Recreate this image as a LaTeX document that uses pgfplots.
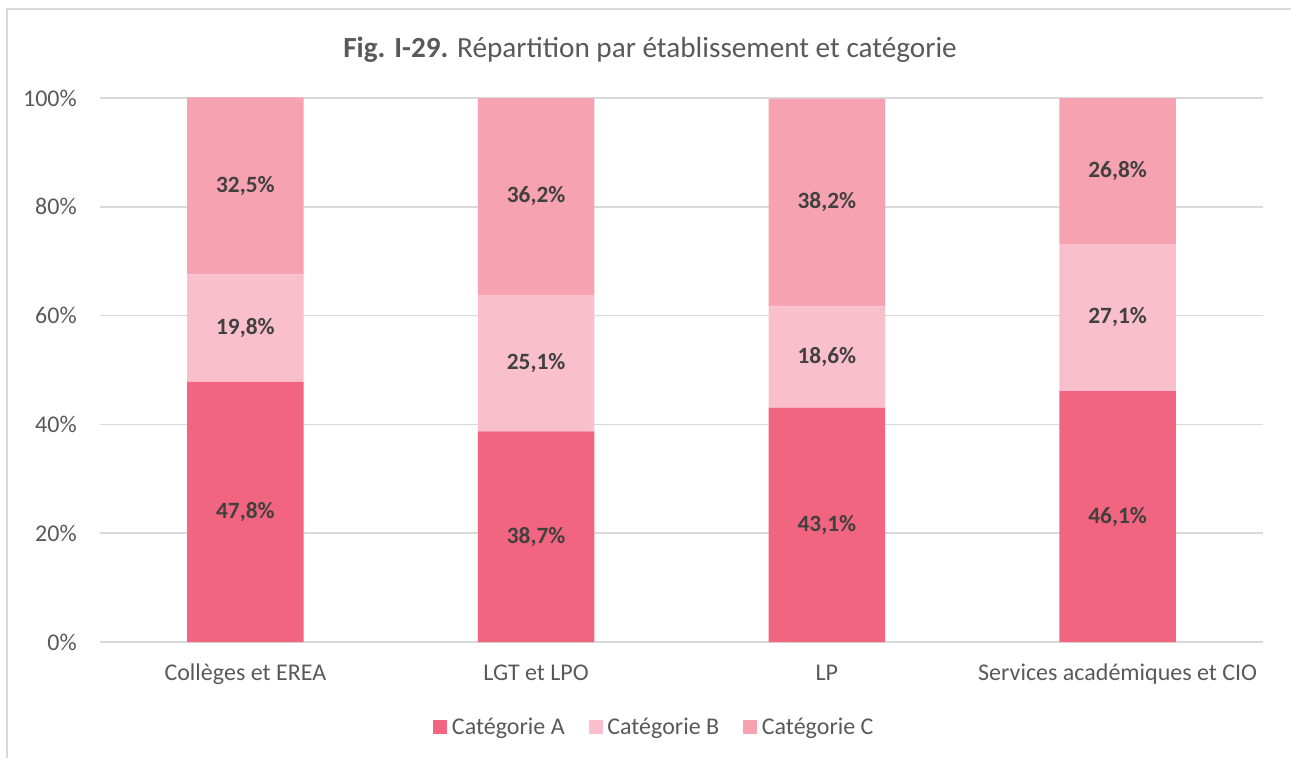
\documentclass[border=0pt]{standalone}
\usepackage{pgfplots}
\pgfplotsset{compat=1.18}
\usepackage{fontspec}
\setmainfont{Carlito}
\definecolor{catA}{HTML}{F26580}
\definecolor{catB}{HTML}{F9BFCC}
\definecolor{catC}{HTML}{F7A2B1}
\definecolor{txt}{HTML}{595959}
\definecolor{lbl}{HTML}{404040}
\definecolor{grd}{HTML}{D9D9D9}
\begin{document}
\begin{tikzpicture}
\path[use as bounding box] (-75pt,-87pt) rectangle (893.25pt,481.5pt);
\draw[grd, line width=1pt] (-69.75pt,-87pt) -- (-69.75pt,474.75pt) -- (893.25pt,474.75pt);
\node[text=txt, font=\fontsize{21.9}{26}\selectfont, anchor=base] at (412.5pt,438pt) {\textbf{Fig. I-29.} Répartition par établissement et catégorie};
\begin{axis}[
  at={(0,0)}, anchor=south west,
  scale only axis, width=872.25pt, height=408pt,
  ybar stacked, bar width=0.4,
  xmin=-0.5, xmax=3.5, ymin=0, ymax=100,
  xtick={0,1,2,3},
  xticklabels={Collèges et EREA, LGT et LPO, LP, Services académiques et CIO},
  ytick={0,20,40,60,80,100},
  yticklabels={0\%,20\%,40\%,60\%,80\%,100\%},
  axis line style={draw=none},
  major tick length=0pt,
  ymajorgrids, grid style={grd, line width=1.2pt},
  ticklabel style={text=txt, font=\fontsize{18}{21}\selectfont},
  xticklabel style={anchor=base, yshift=-28.5pt},
  yticklabel style={anchor=east, inner sep=0pt, xshift=-17.25pt},
  nodes near coords={\pgfmathprintnumber[fixed,fixed zerofill,precision=1,use comma,assume math mode=true]{\pgfplotspointmeta}\%},
  every node near coord/.append style={anchor=center, text=lbl, font=\bfseries\fontsize{17.5}{20}\selectfont},
  legend style={at={(0.477,0)}, anchor=center, yshift=-63.75pt, draw=none, fill=none,
    legend columns=-1, font=\fontsize{18}{21}\selectfont, text=txt,
    /tikz/every even column/.append style={column sep=16pt},
    /tikz/every odd column/.append style={column sep=1.5pt}},
  legend image code/.code={\fill[#1] (0pt,-5.25pt) rectangle (10.5pt,5.25pt);},
  clip=false,
]
\addplot[fill=catA, draw=none] coordinates {(0,47.8) (1,38.7) (2,43.1) (3,46.1)};
\addplot[fill=catB, draw=none] coordinates {(0,19.8) (1,25.1) (2,18.6) (3,27.1)};
\addplot[fill=catC, draw=none] coordinates {(0,32.5) (1,36.2) (2,38.2) (3,26.8)};
\legend{Catégorie A, Catégorie B, Catégorie C}
\end{axis}
\end{tikzpicture}
\end{document}
